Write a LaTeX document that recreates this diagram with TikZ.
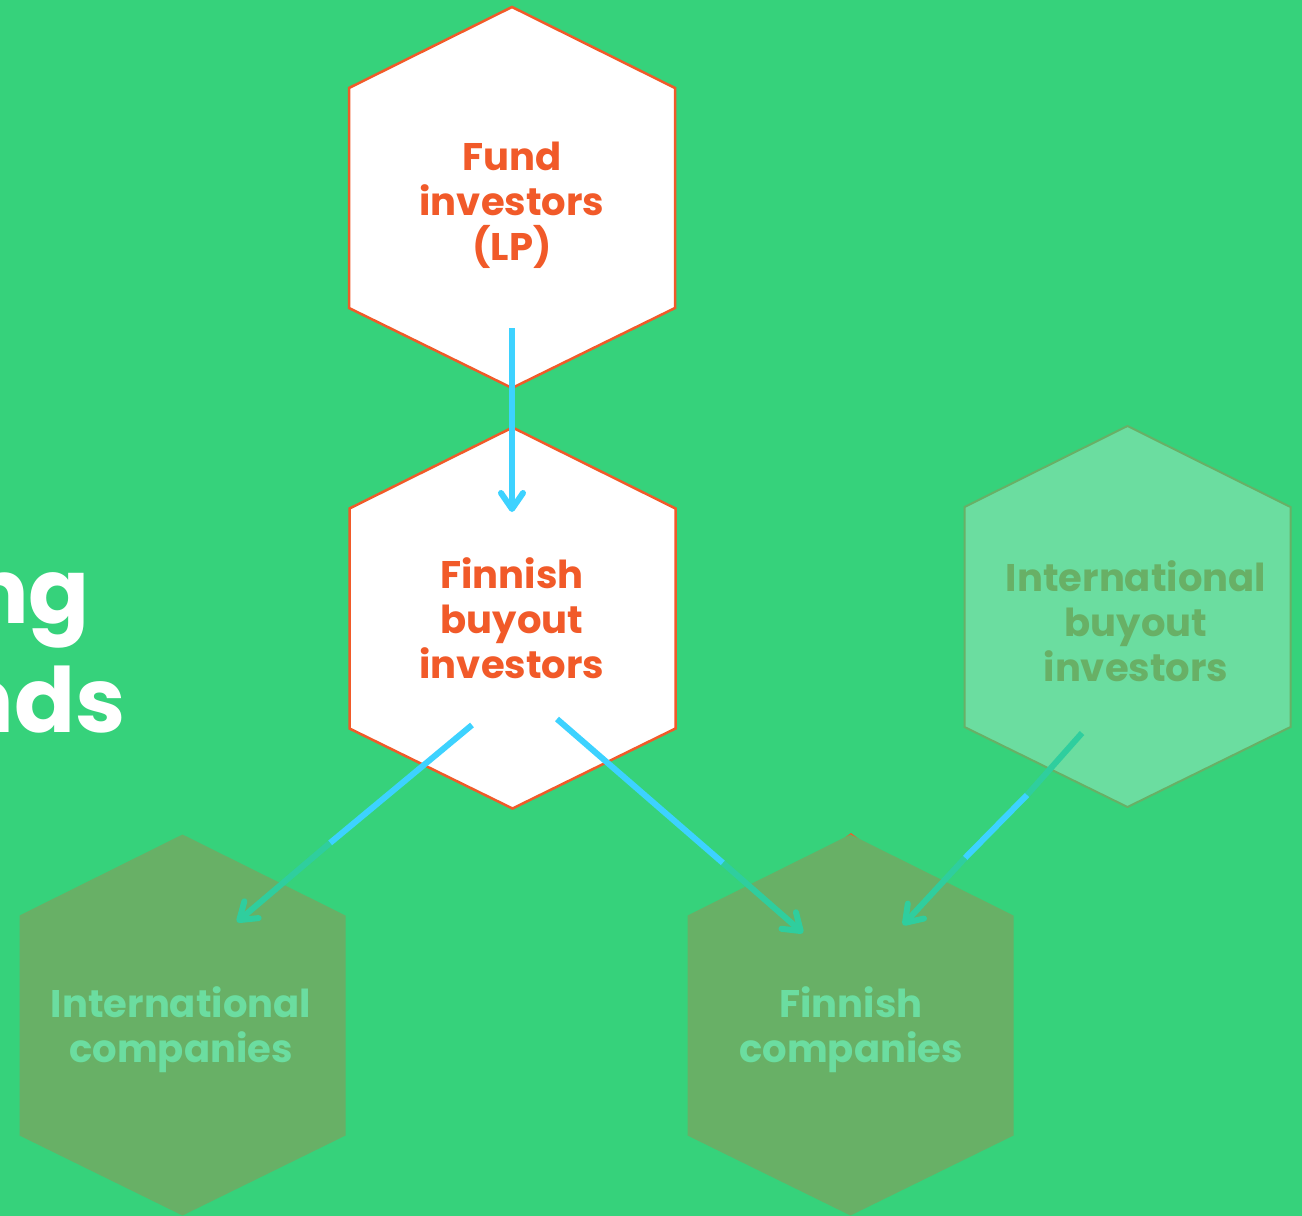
\documentclass[tikz,border=0pt]{standalone}
\usepackage{fontspec}
\setmainfont{Poppins}
\usetikzlibrary{arrows.meta}
\definecolor{bg}{HTML}{36D27B}
\definecolor{orng}{HTML}{F15A29}
\definecolor{cyanA}{HTML}{3DD2FF}
\definecolor{tealA}{HTML}{2FCE9E}
\definecolor{lightG}{HTML}{6BDDA0}
\definecolor{olive}{HTML}{68B066}
\begin{document}
\begin{tikzpicture}[x=1pt,y=-1pt,
  lbl/.style={align=center,font=\fontsize{38.5}{45}\selectfont\bfseries},
  bigtxt/.style={anchor=base east,text=white,inner sep=0pt,font=\fontsize{90}{100}\selectfont\bfseries},
  whitehex/.style={fill=white,draw=orng,line width=2.5pt},
  lighthex/.style={fill=lightG,draw=olive,line width=2pt},
  olivehex/.style={fill=olive},
  hexa/.pic={\path[pic actions] (0,-190.5) -- (163,-109.5) -- (163,110.5) -- (0,190.5) -- (-163,110.5) -- (-163,-109.5) -- cycle;},
  shaft/.style={line width=6pt,line cap=butt},
  tipped/.style={shaft,-{Straight Barb[length=16pt,width=22pt,round]}}
]
\useasboundingbox (0,0) rectangle (1302,1216);
\fill[bg] (0,0) rectangle (1302,1216);
\clip (0,0) rectangle (1302,1216);

% title fragment
\node[bigtxt] (t1) at (90,623) {ng};
\node[bigtxt] (t2) at (126,732) {nds};

% hexagons
\pic[whitehex] at (512,197.5) {hexa};
\pic[whitehex] at (512.5,618) {hexa};
\pic[lighthex] at (1127.5,616.5) {hexa};
\pic[olivehex] at (182.5,1025) {hexa};
\fill[orng] (843,839) -- (851,833) -- (859,839) -- cycle;
\pic[olivehex] at (850.5,1025) {hexa};

% labels
\node[lbl,text=orng] (fi) at (512,205) {Fund\\investors\\(LP)};
\node[lbl,text=orng] (fb) at (512,618) {Finnish\\buyout\\investors};
\node[lbl,text=olive] (ib) at (1136,621) {International\\buyout\\investors};
\node[lbl,text=lightG] (ic) at (181,1030) {International\\companies};
\node[lbl,text=lightG] (fc) at (851,1030) {Finnish\\companies};

% connector points
\coordinate (a1s) at (512,328);
\coordinate (a1e) at (512,512);
\coordinate (a2s) at (472,725);
\coordinate (a2m) at (330,843);
\coordinate (a2e) at (237,922);
\coordinate (a3s) at (557,719);
\coordinate (a3m) at (723,863);
\coordinate (a3e) at (803,933);
\coordinate (a4s) at (1082,733);
\coordinate (a4m) at (1027,795);
\coordinate (a4n) at (965,858);
\coordinate (a4e) at (903,925);

% arrows
\draw[tipped,cyanA] (a1s) -- (a1e);
\draw[shaft,cyanA] (a2s) -- (a2m);
\draw[tipped,tealA] (a2m) -- (a2e);
\draw[shaft,cyanA] (a3s) -- (a3m);
\draw[tipped,tealA] (a3m) -- (a3e);
\draw[shaft,tealA] (a4s) -- (a4m);
\draw[shaft,cyanA] (a4m) -- (a4n);
\draw[tipped,tealA] (a4n) -- (a4e);
\end{tikzpicture}
\end{document}
